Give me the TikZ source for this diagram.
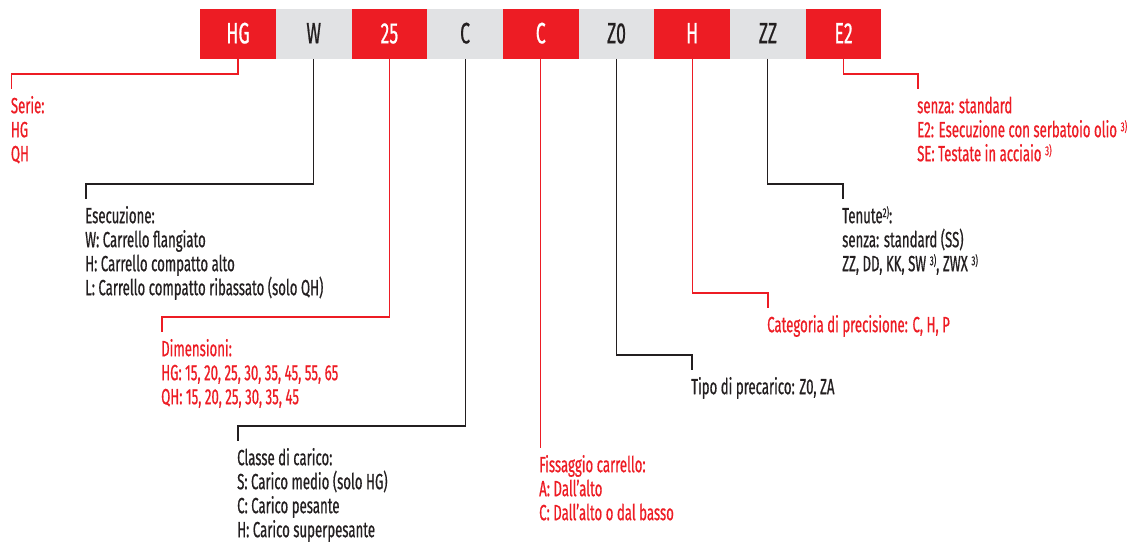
\documentclass[tikz,border=0pt]{standalone}
\usepackage{fontspec}
\setmainfont{Fira Sans}[FakeStretch=0.6,FakeBold=0.6]
\definecolor{cred}{RGB}{237,28,36}
\definecolor{cgray}{RGB}{225,226,228}
\definecolor{cdark}{RGB}{35,31,32}
\newcommand\fst{\rule{0pt}{24pt}}
\newcommand\supr[1]{\raisebox{6pt}{\fontsize{13}{13}\selectfont #1}}
\begin{document}
\begin{tikzpicture}[x=1pt,y=-1pt,
  box/.style={minimum width=75.7pt, minimum height=49.7pt, inner sep=0pt,
    text height=19pt, text depth=0pt, font=\fontsize{29.5}{32}\selectfont},
  rbox/.style={box, fill=cred, text=white},
  gbox/.style={box, fill=cgray, text=cdark},
  txt/.style={anchor=north west, inner sep=0pt, align=left,
    font=\fontsize{22}{24}\selectfont},
  rtxt/.style={txt, text=cred},
  ktxt/.style={txt, text=cdark},
  rline/.style={draw=cred, line width=1.1pt},
  kline/.style={draw=cdark, line width=1.1pt}]
\useasboundingbox (0,0) rectangle (1146,542);
% code boxes
\node[rbox] (b1) at (238.0,33.85) {HG};
\node[gbox] (b2) at (313.7,33.85) {W};
\node[rbox] (b3) at (389.4,33.85) {25};
\node[gbox] (b4) at (465.1,33.85) {C};
\node[rbox] (b5) at (540.8,33.85) {C};
\node[gbox] (b6) at (616.5,33.85) {Z0};
\node[rbox] (b7) at (692.2,33.85) {H};
\node[gbox] (b8) at (767.9,33.85) {ZZ};
\node[rbox] (b9) at (843.6,33.85) {E2};
% text blocks
\node[rtxt] (t1) at (10.7,89) {\fst Serie:\\HG\\QH};
\node[ktxt] (t2) at (85,199) {\fst Esecuzione:\\W: Carrello flangiato\\H: Carrello compatto alto\\L: Carrello compatto ribassato (solo QH)};
\node[rtxt] (t3) at (161,332) {\fst Dimensioni:\\HG: 15, 20, 25, 30, 35, 45, 55, 65\\QH: 15, 20, 25, 30, 35, 45};
\node[ktxt] (t4) at (237,441) {\fst Classe di carico:\\S: Carico medio (solo HG)\\C: Carico pesante\\H: Carico superpesante};
\node[rtxt] (t5) at (539,448) {\fst Fissaggio carrello:\\A: Dall'alto\\C: Dall'alto o dal basso};
\node[ktxt] (t6) at (691,370) {\fst Tipo di precarico: Z0, ZA};
\node[rtxt] (t7) at (767,308) {\fst Categoria di precisione: C, H, P};
\node[ktxt] (t8) at (842,199) {\fst Tenute\supr{2)}:\\senza: standard (SS)\\ZZ, DD, KK, SW\,\supr{3)}, ZWX\,\supr{3)}};
\node[rtxt] (t9) at (917,89) {\fst senza: standard\\E2: Esecuzione con serbatoio olio\,\supr{3)}\\SE: Testate in acciaio\,\supr{3)}};
% connectors
\draw[rline] (b1.south) |- ([xshift=1pt,yshift=15pt]t1.north west) -- ([xshift=1pt]t1.north west);
\draw[kline] (b2.south) |- ([xshift=1pt,yshift=15pt]t2.north west) -- ([xshift=1pt]t2.north west);
\draw[rline] (b3.south) |- ([xshift=1pt,yshift=15pt]t3.north west) -- ([xshift=1pt]t3.north west);
\draw[kline] (b4.south) |- ([xshift=1pt,yshift=15pt]t4.north west) -- ([xshift=1pt]t4.north west);
\draw[rline] (b5.south) -- (b5.south |- t5.north west);
\draw[kline] (b6.south) |- ([xshift=1pt,yshift=15pt]t6.north west) -- ([xshift=1pt]t6.north west);
\draw[rline] (b7.south) |- ([xshift=1pt,yshift=15pt]t7.north west) -- ([xshift=1pt]t7.north west);
\draw[kline] (b8.south) |- ([xshift=1pt,yshift=15pt]t8.north west) -- ([xshift=1pt]t8.north west);
\draw[rline] (b9.south) |- ([xshift=1pt,yshift=15pt]t9.north west) -- ([xshift=1pt]t9.north west);
\end{tikzpicture}
\end{document}
